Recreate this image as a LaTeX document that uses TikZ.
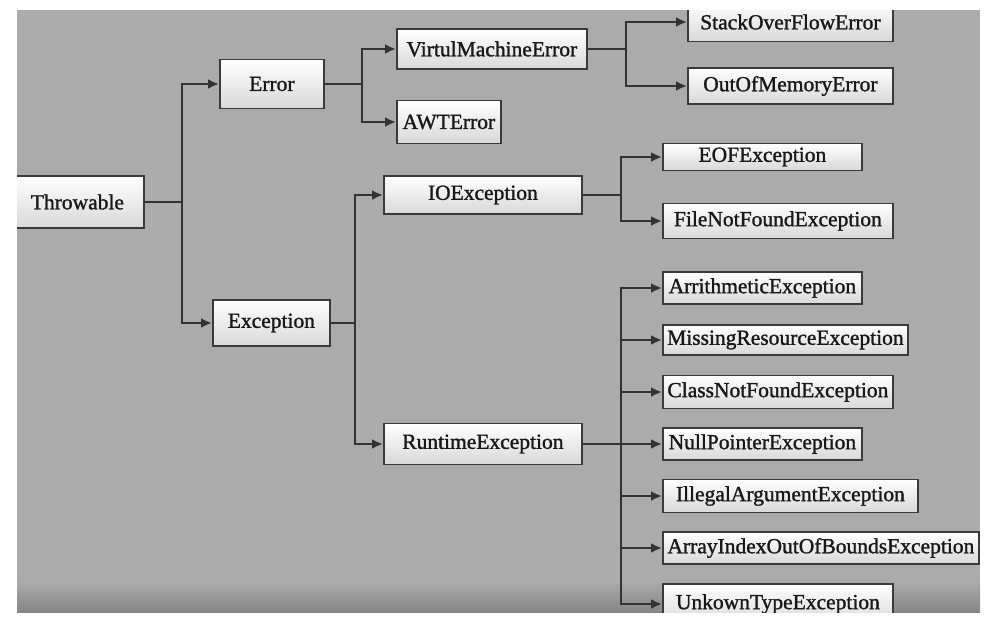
\documentclass[tikz,border=0pt]{standalone}
\usepackage{fontspec}
\setmainfont{Liberation Serif}
\newfontfamily\clsfont[FakeBold=1.3]{Liberation Serif}
\usepackage{tikz}
\usetikzlibrary{arrows.meta, positioning}
\definecolor{panelgray}{HTML}{ABABAB}
\definecolor{paneldark}{HTML}{858585}
\definecolor{boxshade}{HTML}{D8D8D8}
\definecolor{boxline}{HTML}{3A3A3A}
\definecolor{wireink}{HTML}{333333}
\definecolor{textink}{HTML}{181818}

\begin{document}
\begin{tikzpicture}[x=1pt, y=-1pt,
        cls/.style={draw=boxline, line width=1.8pt, top color=white, bottom color=boxshade, text=textink, inner sep=0pt, anchor=west, font=\clsfont\fontsize{21.5}{24}\selectfont},
        arrow/.style={-{Latex[length=11pt, width=10pt]}, line width=2.2pt, wireink}
    ]
    \useasboundingbox (0,0) rectangle (986,624);
    \fill [white] (0,0) rectangle (986,624);
    \fill [panelgray] (17,10) rectangle (980,612);
    \shade [top color=panelgray, bottom color=paneldark] (17,582) rectangle (980,612);

    \begin{scope}
        \clip (17,10) rectangle (980,612);
        % root and first level
        \node (thr) [cls, minimum width=133pt, minimum height=52pt] at (10,202) {Throwable};
        \node (err) [cls, minimum width=104pt, minimum height=49pt] at (219,84) {Error};
        \node (exc) [cls, minimum width=117pt, minimum height=46pt] at (212,323) {Exception};
        % errors
        \node (vme) [cls, minimum width=190pt, minimum height=40pt] at (396,49) {VirtulMachineError};
        \node (awt) [cls, minimum width=104pt, minimum height=43pt] at (396,122) {AWTError};
        \node (sof) [cls, minimum width=205pt, minimum height=39pt] at (687,22) {StackOverFlowError};
        \node (oom) [cls, minimum width=205pt, minimum height=36pt] at (687,86) {OutOfMemoryError};
        % exceptions
        \node (ioe) [cls, minimum width=198pt, minimum height=38pt] at (383,195) {IOException};
        \node (rte) [cls, minimum width=198pt, minimum height=41pt] at (383,444) {RuntimeException};
        \node (eof) [cls, minimum width=199pt, minimum height=27pt] at (662,157) {EOFException};
        \node (fnf) [cls, minimum width=230pt, minimum height=35pt] at (662,221) {FileNotFoundException};
        \node (ari) [cls, minimum width=199pt, minimum height=32pt] at (662,288) {ArrithmeticException};
        \node (mis) [cls, minimum width=245pt, minimum height=30pt] at (662,340) {MissingResourceException};
        \node (cnf) [cls, minimum width=230pt, minimum height=33pt] at (662,392) {ClassNotFoundException};
        \node (npe) [cls, minimum width=199pt, minimum height=32pt] at (662,444) {NullPointerException};
        \node (ill) [cls, minimum width=255pt, minimum height=33pt] at (662,496) {IllegalArgumentException};
        \node (aio) [cls, minimum width=316pt, minimum height=32pt] at (662,548) {ArrayIndexOutOfBoundsException};
        \node (ukt) [cls, minimum width=230pt, minimum height=40pt] at (662,604) {UnkownTypeException};

        \draw [arrow] (thr.east) -- ++(37,0) |- (err.west);
        \draw [arrow] (thr.east) -- ++(37,0) |- (exc.west);
        \draw [arrow] (err.east) -- ++(37,0) |- (vme.west);
        \draw [arrow] (err.east) -- ++(37,0) |- (awt.west);
        \draw [arrow] (vme.east) -- ++(38,0) |- (sof.west);
        \draw [arrow] (vme.east) -- ++(38,0) |- (oom.west);
        \draw [arrow] (exc.east) -- ++(24,0) |- (ioe.west);
        \draw [arrow] (exc.east) -- ++(24,0) |- (rte.west);
        \draw [arrow] (ioe.east) -- ++(38,0) |- (eof.west);
        \draw [arrow] (ioe.east) -- ++(38,0) |- (fnf.west);
        \foreach \leaf in {ari,mis,cnf,npe,ill,aio,ukt}
            \draw [arrow] (rte.east) -- ++(38,0) |- (\leaf.west);
    \end{scope}
\end{tikzpicture}
\end{document}
